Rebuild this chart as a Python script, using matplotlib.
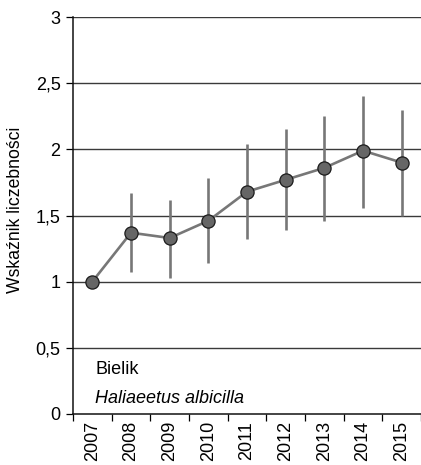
import numpy as np
from matplotlib import pyplot as plt

plt.rcParams['font.family'] = ['Liberation Sans', 'DejaVu Sans']

lata = ['2007', '2008', '2009', '2010', '2011', '2012', '2013', '2014', '2015']
wskaznik = [1.0, 1.37, 1.33, 1.46, 1.68, 1.77, 1.86, 1.99, 1.90]
dolna = [1.0, 1.07, 1.03, 1.14, 1.32, 1.39, 1.46, 1.56, 1.50]
gorna = [1.0, 1.67, 1.62, 1.78, 2.04, 2.15, 2.25, 2.40, 2.30]
y_ticks = [0, 0.5, 1, 1.5, 2, 2.5, 3]
y_labels = ['0', '0,5', '1', '1,5', '2', '2,5', '3']

x = np.arange(len(lata))
w = np.array(wskaznik)
err = [w - np.array(dolna), np.array(gorna) - w]

fig = plt.figure(figsize=(4.21, 4.65), dpi=100)
ax = fig.add_axes([0.1734, 0.1097, 0.8266, 0.8537])

for t in y_ticks[1:]:
    ax.axhline(t, color='#3a3a3a', lw=1.0, zorder=1)

ax.errorbar(x, w, yerr=err, fmt='none', ecolor='#777777', elinewidth=1.9, capsize=0, zorder=2)
ax.plot(x, w, color='#777777', lw=1.9, zorder=3)
ax.plot(x, w, 'o', ms=9.5, mfc='#666666', mec='#1a1a1a', mew=0.9, zorder=4)

ax.set_xlim(-0.5, 8.5)
ax.set_ylim(0, 3)
ax.set_yticks(y_ticks)
ax.set_yticklabels(y_labels, fontsize=13)
ax.set_xticks(x)
ax.set_xticklabels(lata, rotation=90, fontsize=13)
ax.set_xticks(np.arange(-0.5, 8.6, 1), minor=True)
ax.tick_params(axis='x', which='major', length=0, pad=5)
ax.tick_params(axis='x', which='minor', length=5, width=0.9, direction='out')
ax.tick_params(axis='y', length=5, width=0.9, direction='out', pad=4)

for s in ['top', 'right']:
    ax.spines[s].set_visible(False)
for s in ['left', 'bottom']:
    ax.spines[s].set_linewidth(1.1)
    ax.spines[s].set_color('#111111')

ax.set_ylabel('Wskaźnik liczebności', fontsize=12.7)
ax.yaxis.set_label_coords(-0.14, 0.515)

ax.text(0.07, 0.335, 'Bielik', fontsize=13, va='center')
ax.text(0.07, 0.115, 'Haliaeetus albicilla', fontsize=13, style='italic', va='center')

plt.savefig('out.png', dpi=100)
